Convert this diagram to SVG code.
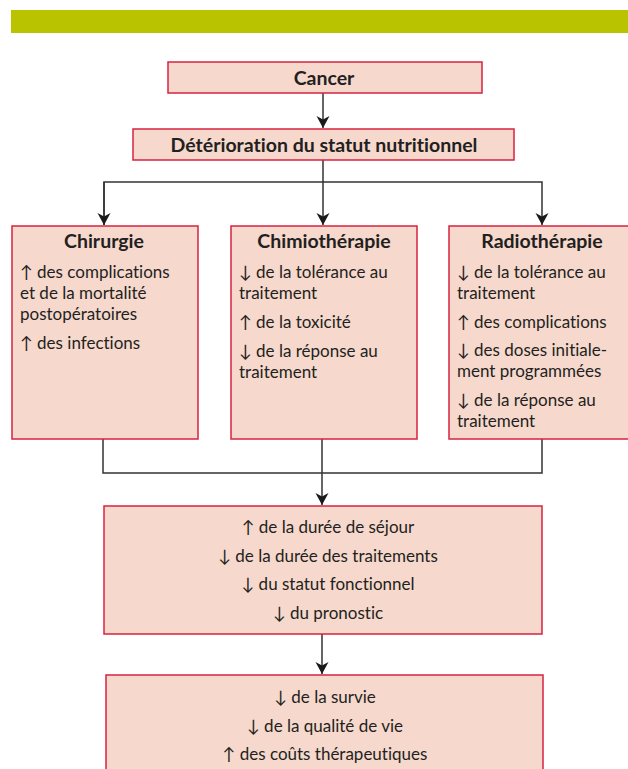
<svg xmlns="http://www.w3.org/2000/svg" width="628" height="769" viewBox="0 0 628 769">
<style>
.box{fill:#f6d8cd;stroke:#d8233f;stroke-width:1.5}
.t{font-family:Lato,"DejaVu Sans",sans-serif;font-size:17px;fill:#231f20;font-variant-ligatures:none}
.b{font-weight:bold;font-size:19.5px}
.c{text-anchor:middle}
.ln{fill:none;stroke:#333;stroke-width:1.5}
</style>
<defs>
<marker id="ah" viewBox="0 0 12 14" refX="12" refY="7" markerWidth="12" markerHeight="14" markerUnits="userSpaceOnUse" orient="auto">
<path d="M0,0.5 L12,7 L0,13.5 L3.5,7 z" fill="#1a1a1a"/>
</marker>
</defs>
<rect x="11" y="10" width="617" height="23" fill="#b9c300"/>
<g id="connectors">
<path class="ln" d="M323,93 V128" marker-end="url(#ah)"/>
<path class="ln" d="M323,160 V225" marker-end="url(#ah)"/>
<path class="ln" d="M104,225 V182 H542 V225" marker-end="url(#ah)"/>
<path class="ln" d="M104,182 V225" marker-end="url(#ah)"/>
<path class="ln" d="M103,439 V473 H542 V439"/>
<path class="ln" d="M322,439 V505" marker-end="url(#ah)"/>
<path class="ln" d="M322,634 V674" marker-end="url(#ah)"/>
</g>
<g id="cancer">
<rect class="box" x="168" y="62" width="314" height="31"/>
<text class="t b c" x="324" y="85">Cancer</text>
</g>
<g id="deterioration">
<rect class="box" x="133" y="129" width="381" height="31"/>
<text class="t b c" x="324" y="152">Détérioration du statut nutritionnel</text>
</g>
<g id="chirurgie">
<rect class="box" x="12" y="226" width="186" height="213"/>
<text class="t b c" x="104" y="248">Chirurgie</text>
<text class="t" x="20" y="278">↑ des complications</text>
<text class="t" x="20" y="299">et de la mortalité</text>
<text class="t" x="20" y="320">postopératoires</text>
<text class="t" x="20" y="349">↑  des infections</text>
</g>
<g id="chimiotherapie">
<rect class="box" x="231" y="226" width="186" height="213"/>
<text class="t b c" x="324" y="248">Chimiothérapie</text>
<text class="t" x="239" y="278">↓ de la tolérance au</text>
<text class="t" x="239" y="299">traitement</text>
<text class="t" x="239" y="328">↑ de la toxicité</text>
<text class="t" x="239" y="357">↓ de la réponse au</text>
<text class="t" x="239" y="378">traitement</text>
</g>
<g id="radiotherapie">
<rect class="box" x="449" y="226" width="180" height="213"/>
<text class="t b c" x="542" y="248">Radiothérapie</text>
<text class="t" x="457" y="278">↓ de la tolérance au</text>
<text class="t" x="457" y="299">traitement</text>
<text class="t" x="457" y="328">↑ des complications</text>
<text class="t" x="457" y="356">↓ des doses initiale-</text>
<text class="t" x="457" y="377">ment programmées</text>
<text class="t" x="457" y="406">↓ de la réponse au</text>
<text class="t" x="457" y="427">traitement</text>
</g>
<g id="consequences">
<rect class="box" x="104" y="506" width="438" height="128"/>
<text class="t c" x="328" y="533">↑ de la durée de séjour</text>
<text class="t c" x="328" y="562">↓ de la durée des traitements</text>
<text class="t c" x="328" y="590">↓ du statut fonctionnel</text>
<text class="t c" x="328" y="619">↓ du pronostic</text>
</g>
<g id="outcomes">
<rect class="box" x="106" y="675" width="437" height="100"/>
<text class="t c" x="325" y="703">↓ de la survie</text>
<text class="t c" x="325" y="732">↓ de la qualité de vie</text>
<text class="t c" x="325" y="760">↑ des coûts thérapeutiques</text>
</g>
</svg>
